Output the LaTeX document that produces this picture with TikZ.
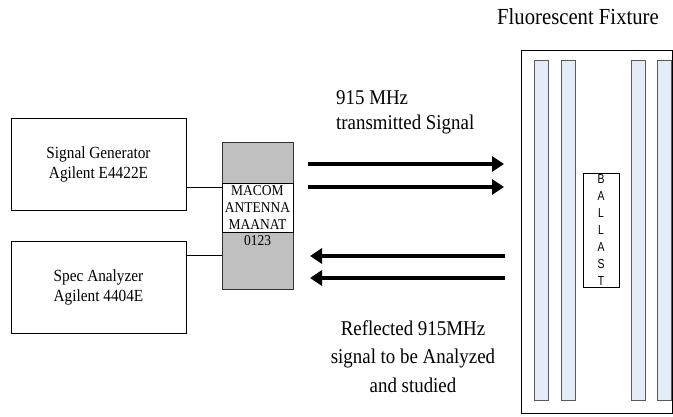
\documentclass[tikz,border=0pt]{standalone}
\usepackage{fontspec}
\setmainfont{Liberation Serif}[FakeStretch=0.9]
\newfontfamily\ballastfont{Liberation Sans}[FakeStretch=0.8]
\usetikzlibrary{arrows.meta}
\definecolor{tubeblue}{HTML}{E4ECF7}
\definecolor{antgray}{HTML}{C0C0C0}

\begin{document}
\begin{tikzpicture}[
  x=1pt, y=-1pt,
  inode/.style={draw,rectangle,line width=0.9pt,minimum width=175pt,minimum height=92pt,inner sep=0pt,align=center,font=\fontsize{17}{20}\selectfont},
  tube/.style={draw=black!65,fill=tubeblue,rectangle,minimum width=14pt,minimum height=340pt,inner sep=0pt},
  sig/.style={line width=3.2pt,-{Triangle[length=12pt,width=15pt]}},
  txt/.style={font=\fontsize{21}{25}\selectfont,inner sep=0pt}
]
  \useasboundingbox (0,0) rectangle (673,417);

  % instruments
  \node[inode] (sg) at (98.5,164) {Signal Generator\\Agilent E4422E};
  \node[inode] (sa) at (98.5,287) {Spec Analyzer\\Agilent 4404E};

  % antenna
  \node[draw=black!80,fill=antgray,minimum width=71pt,minimum height=147pt,inner sep=0pt] (ant) at (257.5,215.5) {};
  \node[draw=black,fill=white,minimum width=71pt,minimum height=49pt,inner sep=0pt] (band) at (257.5,207.5) {};
  \node[font=\fontsize{15}{16.6}\selectfont,align=center,inner sep=0pt] (antlbl) at (257.5,216) {MACOM\\ANTENNA\\MAANAT\\0123};

  % cables
  \coordinate (tx) at (0,187);
  \coordinate (rx) at (0,255);
  \draw[line width=0.8pt] (sg.east |- tx) -- (ant.west |- tx);
  \draw[line width=0.8pt] (sa.east |- rx) -- (ant.west |- rx);

  % fixture and tubes
  \node[font=\fontsize{23}{27}\selectfont] (title) at (578,17) {Fluorescent Fixture};
  \node[draw,line width=0.9pt,minimum width=151pt,minimum height=363pt,inner sep=0pt] (fix) at (596.5,231.5) {};
  \node[tube] (t1) at (541,230) {};
  \node[tube] (t2) at (568,230) {};
  \node[tube] (t3) at (638,230) {};
  \node[tube] (t4) at (664,230) {};

  % ballast
  \node[draw,fill=white,minimum width=36pt,minimum height=114pt,inner sep=0pt] (bal) at (601,230) {};
  \node[font=\ballastfont\fontsize{13}{17}\selectfont,align=center,inner sep=0pt] (ballbl) at (bal.center) {B\\A\\L\\L\\A\\S\\T};

  % signal arrows
  \coordinate (o1) at (308,164);
  \coordinate (i1) at (504,164);
  \coordinate (o2) at (308,187);
  \coordinate (i2) at (504,187);
  \coordinate (r1) at (505,256);
  \coordinate (e1) at (310,256);
  \coordinate (r2) at (505,278);
  \coordinate (e2) at (310,278);
  \draw[sig] (o1) -- (i1);
  \draw[sig] (o2) -- (i2);
  \draw[sig] (r1) -- (e1);
  \draw[sig] (r2) -- (e2);

  % labels
  \node[txt,align=left,anchor=west] (txlbl) at (336,112.5) {915 MHz\\ transmitted Signal};
  \node[txt,align=center,font=\fontsize{21}{28.5}\selectfont] (rxlbl) at (413,356.5) {Reflected 915MHz\\signal to be Analyzed\\and studied};

\end{tikzpicture}
\end{document}
